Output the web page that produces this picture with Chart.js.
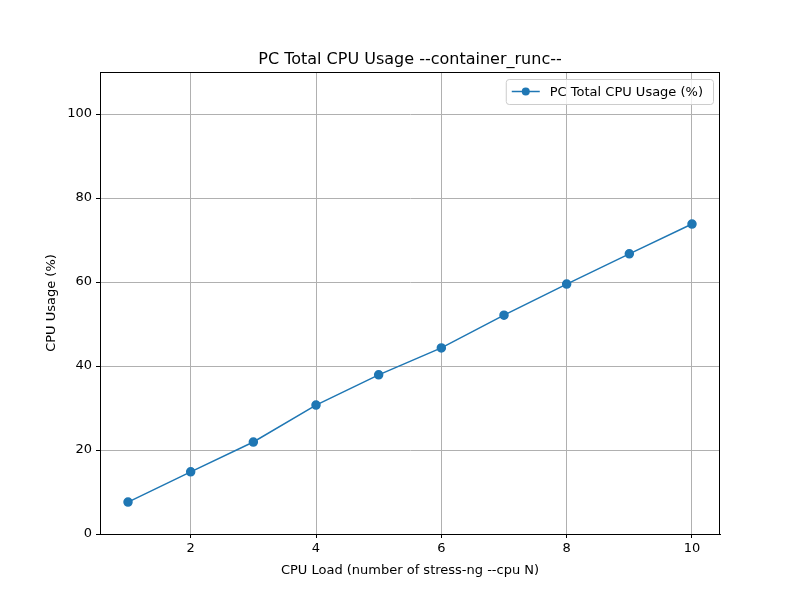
<!DOCTYPE html>
<html>
<head>
<meta charset="utf-8">
<script src="https://cdn.jsdelivr.net/npm/chart.js@4"></script>
<style>
  body { margin: 0; background: #fff; }
  #wrap { width: 800px; height: 600px; }
</style>
</head>
<body>
<div id="wrap"><canvas id="chart" width="800" height="600"></canvas></div>
<script>
// Data
const cpuLoad = [1, 2, 3, 4, 5, 6, 7, 8, 9, 10];
const cpuUsage = [7.6, 14.8, 21.9, 30.7, 37.9, 44.3, 52.1, 59.5, 66.7, 73.8];
const xTicks = [2, 4, 6, 8, 10];
const yTicks = [0, 20, 40, 60, 80, 100];

const seriesLabel = 'PC Total CPU Usage (%)';
const chartTitle = 'PC Total CPU Usage --container_runc--';
const xTitle = 'CPU Load (number of stress-ng --cpu N)';
const yTitle = 'CPU Usage (%)';
const lineColor = '#1f77b4';
const font = 'DejaVu Sans';

// Frame, titles and a matplotlib-style legend, placed relative to the plot area
const decorations = {
    id: 'decorations',
    afterDraw(chart) {
        const ctx = chart.ctx;
        const a = chart.chartArea;
        const cx = (a.left + a.right) / 2;
        ctx.save();
        // frame
        ctx.strokeStyle = '#000';
        ctx.lineWidth = 1;
        ctx.strokeRect(Math.round(a.left) + 0.5, Math.round(a.top) + 0.5,
                       Math.round(a.right - a.left) - 1, Math.round(a.bottom - a.top));
        // titles
        ctx.fillStyle = '#000';
        ctx.textAlign = 'center';
        ctx.textBaseline = 'alphabetic';
        ctx.font = '16px "' + font + '"';
        ctx.fillText(chartTitle, cx, a.top - 8);
        ctx.font = '13px "' + font + '"';
        ctx.fillText(xTitle, cx, a.bottom + 40);
        ctx.save();
        ctx.translate(a.left - 45, (a.top + a.bottom) / 2);
        ctx.rotate(-Math.PI / 2);
        ctx.fillText(yTitle, 0, 0);
        ctx.restore();
        // legend
        ctx.textAlign = 'left';
        const textW = ctx.measureText(seriesLabel).width;
        const w = textW + 54, h = 25;
        const x = a.right - 7 - w, y = a.top + 7;
        ctx.fillStyle = 'rgba(255,255,255,0.8)';
        ctx.strokeStyle = '#cccccc';
        ctx.beginPath();
        ctx.roundRect(x + 0.5, y + 0.5, w, h, 3);
        ctx.fill();
        ctx.stroke();
        ctx.strokeStyle = lineColor;
        ctx.lineWidth = 1.5;
        ctx.beginPath();
        ctx.moveTo(x + 6, y + h / 2);
        ctx.lineTo(x + 34, y + h / 2);
        ctx.stroke();
        ctx.fillStyle = lineColor;
        ctx.beginPath();
        ctx.arc(x + 20, y + h / 2, 4, 0, Math.PI * 2);
        ctx.fill();
        ctx.fillStyle = '#000';
        ctx.textBaseline = 'middle';
        ctx.fillText(seriesLabel, x + 44, y + h / 2 + 1);
        ctx.restore();
    }
};

new Chart(document.getElementById('chart').getContext('2d'), {
    type: 'line',
    data: {
        datasets: [{
            label: seriesLabel,
            data: cpuLoad.map((x, i) => ({ x: x, y: cpuUsage[i] })),
            borderColor: lineColor,
            backgroundColor: lineColor,
            borderWidth: 1.5,
            pointRadius: 4,
            pointHoverRadius: 4,
            tension: 0,
            fill: false
        }]
    },
    options: {
        responsive: false,
        animation: false,
        devicePixelRatio: 1,
        layout: { padding: { left: 0, right: 80, top: 72, bottom: 0 } },
        plugins: {
            legend: { display: false },
            tooltip: { enabled: false }
        },
        scales: {
            x: {
                type: 'linear',
                min: 0.553,
                max: 10.447,
                afterBuildTicks: axis => { axis.ticks = xTicks.map(v => ({ value: v })); },
                afterFit: axis => { axis.height = 66; },
                grid: { color: '#b0b0b0', tickLength: 4, tickColor: '#000' },
                border: { color: '#000' },
                ticks: { color: '#000', font: { family: font, size: 13 }, padding: 3, maxRotation: 0 }
            },
            y: {
                min: 0,
                max: 110,
                afterBuildTicks: axis => { axis.ticks = yTicks.map(v => ({ value: v })); },
                afterFit: axis => { axis.width = 100; },
                grid: { color: '#b0b0b0', tickLength: 4, tickColor: '#000' },
                border: { color: '#000' },
                ticks: { color: '#000', font: { family: font, size: 13 }, padding: 4 }
            }
        }
    },
    plugins: [decorations]
});
</script>
</body>
</html>
